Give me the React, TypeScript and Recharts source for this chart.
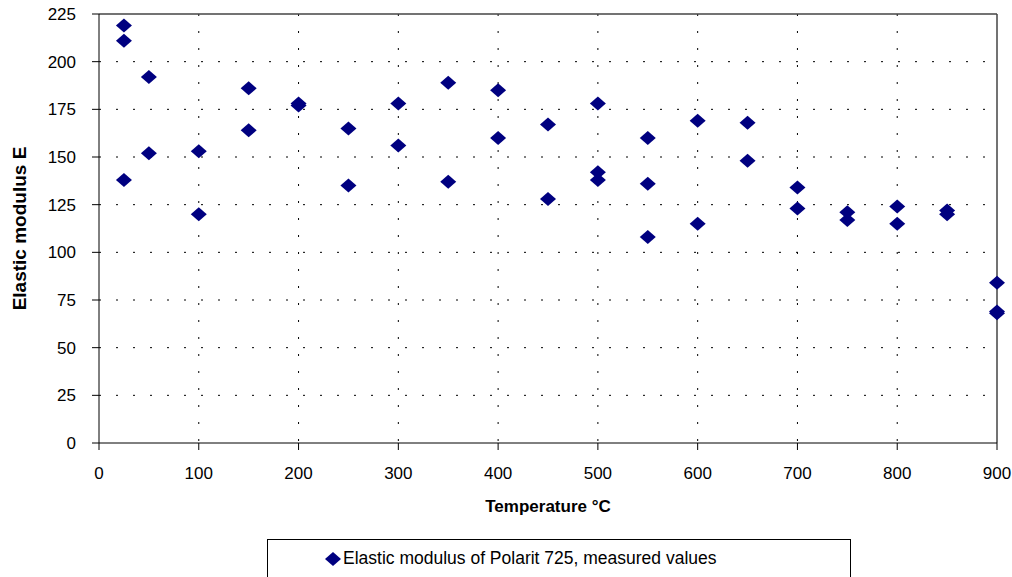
import { ScatterChart, Scatter, XAxis, YAxis, CartesianGrid, ReferenceLine } from 'recharts';

const temperatures = [
  25, 25, 25, 50, 50, 100, 100, 150, 150, 200, 200, 250, 250, 300, 300, 350, 350, 400, 400, 450, 450,
  500, 500, 500, 550, 550, 550, 600, 600, 650, 650, 700, 700, 750, 750, 800, 800, 850, 850, 900, 900, 900,
];
const moduli = [
  219, 211, 138, 192, 152, 153, 120, 186, 164, 177, 178, 165, 135, 178, 156, 189, 137, 185, 160, 167, 128,
  178, 142, 138, 160, 136, 108, 169, 115, 168, 148, 134, 123, 121, 117, 124, 115, 122, 120, 84, 68, 69,
];
const xTicks = [0, 100, 200, 300, 400, 500, 600, 700, 800, 900];
const yTicks = [0, 25, 50, 75, 100, 125, 150, 175, 200, 225];
const seriesName = 'Elastic modulus of Polarit 725, measured values';

const data = temperatures.map((t, i) => ({ t, e: moduli[i] }));

const FONT = '"Liberation Sans", Arial, sans-serif';
const NAVY = '#000080';

const Diamond = (props: any) => {
  const { cx, cy } = props;
  if (cx == null || cy == null) return null;
  return <polygon points={`${cx},${cy - 7} ${cx + 8},${cy} ${cx},${cy + 7} ${cx - 8},${cy}`} fill={NAVY} />;
};

const XTick = (props: any) => {
  const { x, y, payload } = props;
  return (
    <text x={x} y={y + 27} textAnchor="middle" fill="#000" fontSize={17} fontFamily={FONT}>
      {payload.value}
    </text>
  );
};

const YTick = (props: any) => {
  const { x, y, payload } = props;
  return (
    <text x={x - 14} y={y + 6} textAnchor="end" fill="#000" fontSize={17} fontFamily={FONT}>
      {payload.value}
    </text>
  );
};

export default function App() {
  return (
    <div style={{ position: 'absolute', left: 0, top: 0, width: 1012, height: 577, background: '#fff' }}>
      <ScatterChart width={1012} height={577} margin={{ top: 14, right: 15, bottom: 0, left: 0 }}>
        <CartesianGrid
          stroke="#000"
          strokeDasharray="2 15"
          horizontalValues={[25, 50, 75, 100, 125, 150, 175, 200]}
          verticalValues={[100, 200, 300, 400, 500, 600, 700, 800]}
        />
        <XAxis
          type="number"
          dataKey="t"
          domain={[0, 900]}
          ticks={xTicks}
          interval={0}
          height={134}
          stroke="#000"
          tickSize={7}
          tick={<XTick />}
          label={{ value: 'Temperature °C', position: 'insideTop', offset: 57, fill: '#000', fontSize: 17, fontWeight: 'bold', fontFamily: FONT }}
        />
        <YAxis
          type="number"
          dataKey="e"
          domain={[0, 225]}
          ticks={yTicks}
          interval={0}
          width={99}
          stroke="#000"
          tickSize={7}
          tick={<YTick />}
          label={{ value: 'Elastic modulus E', angle: -90, position: 'insideLeft', offset: 19, fill: '#000', fontSize: 19, fontWeight: 'bold', fontFamily: FONT, style: { textAnchor: 'middle' } }}
        />
        <ReferenceLine y={225} stroke="#444" strokeWidth={1.5} />
        <ReferenceLine x={900} stroke="#444" strokeWidth={1.5} />
        <Scatter name={seriesName} data={data} fill={NAVY} shape={Diamond} isAnimationActive={false} />
      </ScatterChart>
      <div
        style={{
          position: 'absolute',
          left: 267,
          top: 539,
          width: 584,
          height: 38,
          border: '1px solid #000',
          borderBottom: 'none',
          boxSizing: 'border-box',
          display: 'flex',
          alignItems: 'center',
          fontFamily: FONT,
          fontSize: 17.5,
          color: '#000',
        }}
      >
        <svg width={16} height={14} style={{ marginLeft: 57, marginRight: 2 }}>
          <polygon points="8,0 16,7 8,14 0,7" fill={NAVY} />
        </svg>
        <span>{seriesName}</span>
      </div>
    </div>
  );
}
